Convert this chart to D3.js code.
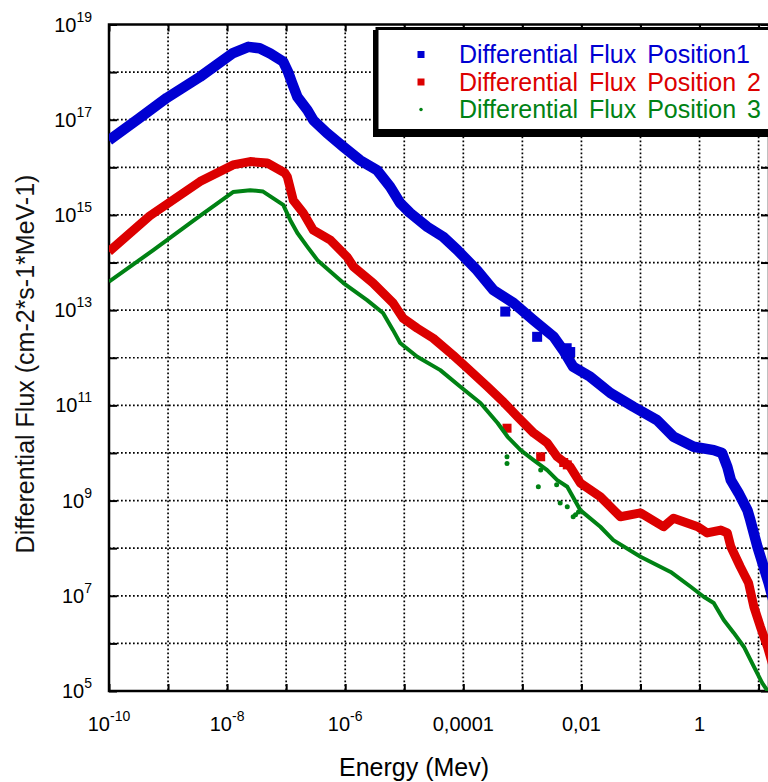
<!DOCTYPE html>
<html>
<head>
  <meta charset="utf-8">
  <style>
    body { margin: 0; background: #fff; }
    text { font-family: "Liberation Sans", Arial, sans-serif; }
  </style>
</head>
<body>
<div id="chart"></div>
<script src="https://d3js.org/d3.v7.min.js"></script>
<script>

  // values, as [log10 energy (MeV), log10 flux]
  const position1 = [[-10.00,16.57],[-9.50,17.02],[-9.02,17.46],[-8.46,17.90],[-7.90,18.40],[-7.64,18.53],
    [-7.45,18.50],[-7.27,18.39],[-7.05,18.22],[-6.97,18.01],[-6.90,17.77],[-6.81,17.48],[-6.64,17.20],
    [-6.54,16.99],[-6.31,16.72],[-6.03,16.43],[-5.75,16.15],[-5.46,15.94],[-5.24,15.59],[-5.07,15.25],
    [-4.90,15.04],[-4.61,14.75],[-4.34,14.54],[-4.10,14.26],[-3.77,13.84],[-3.49,13.42],[-3.15,13.15],
    [-2.81,12.79],[-2.47,12.44],[-2.31,12.16],[-2.14,11.81],[-1.85,11.60],[-1.51,11.26],[-1.12,10.97],
    [-0.72,10.69],[-0.44,10.34],[-0.10,10.13],[0.24,10.06],[0.38,10.00],[0.47,9.71],[0.53,9.43],
    [0.66,9.16],[0.81,8.80],[0.86,8.59],[0.98,8.03],[1.17,7.27],[1.25,6.9]];
  const position1Stray = [[-3.29,12.97],[-2.75,12.44],[-2.25,12.20],[-2.19,12.12]];

  const position2 = [[-10.00,14.23],[-9.31,14.98],[-8.46,15.70],[-7.90,16.05],[-7.61,16.12],[-7.32,16.09],
    [-7.02,15.88],[-6.98,15.80],[-6.88,15.31],[-6.71,15.04],[-6.54,14.68],[-6.25,14.47],[-5.97,14.12],
    [-5.86,13.91],[-5.53,13.57],[-5.19,13.15],[-5.02,12.83],[-4.78,12.62],[-4.51,12.41],[-4.17,12.05],
    [-3.93,11.78],[-3.59,11.39],[-3.32,11.07],[-3.08,10.76],[-2.81,10.42],[-2.58,10.21],[-2.41,9.92],
    [-2.19,9.71],[-2.02,9.37],[-1.68,9.08],[-1.34,8.66],[-1.00,8.74],[-0.61,8.45],[-0.44,8.63],
    [-0.03,8.45],[0.13,8.32],[0.36,8.38],[0.47,8.32],[0.53,8.03],[0.69,7.61],[0.83,7.27],[0.92,6.77],
    [1.03,6.35],[1.15,5.93],[1.25,5.5]];
  const position2Stray = [[-3.26,10.52],[-2.69,9.92],[-2.30,9.80],[-2.24,9.75]];

  const position3 = [[-10.00,13.60],[-9.25,14.26],[-8.46,14.98],[-7.90,15.48],[-7.61,15.52],[-7.39,15.49],
    [-7.05,15.21],[-6.93,14.89],[-6.81,14.62],[-6.64,14.33],[-6.47,14.05],[-6.03,13.57],[-5.63,13.21],
    [-5.36,12.94],[-5.19,12.58],[-5.07,12.31],[-4.78,12.02],[-4.39,11.74],[-4.05,11.39],[-3.71,11.05],
    [-3.42,10.63],[-3.25,10.34],[-3.03,10.06],[-2.81,9.85],[-2.58,9.64],[-2.41,9.43],[-2.24,9.29],
    [-2.02,8.80],[-1.68,8.45],[-1.46,8.17],[-1.00,7.82],[-0.49,7.50],[-0.15,7.19],[0.07,6.98],
    [0.24,6.85],[0.41,6.49],[0.58,6.22],[0.75,5.93],[0.92,5.51],[1.06,5.17],[1.18,4.95]];
  const position3Stray = [[-3.26,9.92],[-3.26,9.78],[-2.73,9.29],[-2.69,9.64],[-2.42,9.33],[-2.36,8.95],
    [-2.24,8.87],[-2.14,8.66],[-2.10,8.70],[-2.05,8.76]];

  const xTickLabels = [[-10,"10","-10"],[-8,"10","-8"],[-6,"10","-6"],[-4,"0,0001",""],[-2,"0,01",""],[0,"1",""]];
  const yTickLabels = [19,17,15,13,11,9,7,5];
  const seriesNames = ["Differential Flux Position1","Differential Flux Position 2","Differential Flux Position 3"];
  const seriesColors = ["#0000d2","#dc0000","#008214"];

  const width = 768, height = 782;
  const plotLeft = 109, plotRight = 769, plotTop = 24.5, plotBottom = 691;

  const x = d3.scaleLog().domain([1e-10, 15]).range([plotLeft, plotRight]);
  const y = d3.scaleLog().domain([1e5, 1e19]).range([plotBottom, plotTop]);
  const px = d => x(Math.pow(10, d[0]));
  const py = d => y(Math.pow(10, d[1]));

  const svg = d3.select('#chart').append('svg')
    .attr('width', width).attr('height', height);
  svg.append('rect').attr('width', width).attr('height', height).attr('fill', '#fff');

  svg.append('clipPath').attr('id', 'plot')
    .append('rect').attr('x', plotLeft).attr('y', plotTop)
    .attr('width', plotRight - plotLeft).attr('height', plotBottom - plotTop);

  const xDecades = d3.range(-10, 2).map(e => Math.pow(10, e));
  const yDecades = d3.range(5, 20).map(e => Math.pow(10, e));

  // dotted grid
  const grid = svg.append('g').attr('stroke', '#000').attr('stroke-width', 1.7)
    .attr('stroke-dasharray', '1.7,2.3');
  grid.selectAll('.gx').data(xDecades.slice(1)).enter().append('line')
    .attr('x1', d => x(d)).attr('x2', d => x(d)).attr('y1', plotTop).attr('y2', plotBottom);
  grid.selectAll('.gy').data(yDecades.slice(1, -1)).enter().append('line')
    .attr('x1', plotLeft).attr('x2', plotRight).attr('y1', d => y(d)).attr('y2', d => y(d));

  // axes with inward ticks
  svg.append('g').attr('transform', `translate(0,${plotBottom})`)
    .call(d3.axisTop(x).tickValues(xDecades).tickSize(7).tickFormat(''));
  svg.append('g').attr('transform', `translate(0,${plotTop})`)
    .call(d3.axisBottom(x).tickValues(xDecades).tickSize(7).tickFormat(''));
  svg.append('g').attr('transform', `translate(${plotLeft},0)`)
    .call(d3.axisRight(y).tickValues(yDecades).tickSize(8).tickFormat(''));
  svg.append('g').attr('transform', `translate(${plotRight},0)`)
    .call(d3.axisLeft(y).tickValues(yDecades).tickSize(8).tickFormat(''));
  svg.selectAll('.domain').remove();
  svg.selectAll('.tick line').attr('stroke', '#000').attr('stroke-width', 2);

  svg.append('rect').attr('x', plotLeft).attr('y', plotTop)
    .attr('width', plotRight - plotLeft).attr('height', plotBottom - plotTop)
    .attr('fill', 'none').attr('stroke', '#000').attr('stroke-width', 2.5);

  // tick labels
  const yl = svg.append('g').selectAll('text').data(yTickLabels).enter().append('text')
    .attr('x', 92).attr('y', d => y(Math.pow(10, d)) + 7)
    .attr('text-anchor', 'end').attr('font-size', 20);
  yl.append('tspan').text('10');
  yl.append('tspan').attr('dy', -10).attr('font-size', 14).text(d => d);

  const xl = svg.append('g').selectAll('text').data(xTickLabels).enter().append('text')
    .attr('x', d => x(Math.pow(10, d[0]))).attr('y', 731)
    .attr('text-anchor', 'middle').attr('font-size', 20);
  xl.append('tspan').text(d => d[1]);
  xl.filter(d => d[2]).append('tspan').attr('dy', -10).attr('font-size', 14).text(d => d[2]);

  svg.append('text').attr('x', 414).attr('y', 776).attr('text-anchor', 'middle')
    .attr('font-size', 25).text('Energy (Mev)');
  svg.append('text').attr('transform', 'translate(34,364) rotate(-90)').attr('text-anchor', 'middle')
    .attr('font-size', 25).attr('fill', '#111').text('Differential Flux (cm-2*s-1*MeV-1)');

  // series
  const line = d3.line().x(px).y(py);
  const series = [
    { data: position1, stray: position1Stray, w: 10.5, m: 10 },
    { data: position2, stray: position2Stray, w: 9, m: 9 },
    { data: position3, stray: position3Stray, w: 4, m: 5 }
  ];
  const plot = svg.append('g').attr('clip-path', 'url(#plot)');
  series.forEach((s, i) => {
    const g = plot.append('g');
    g.append('path').attr('d', line(s.data)).attr('fill', 'none')
      .attr('stroke', seriesColors[i]).attr('stroke-width', s.w)
      .attr('stroke-linejoin', 'round');
    g.selectAll('rect').data(s.stray).enter().append('rect')
      .attr('x', d => px(d) - s.m / 2).attr('y', d => py(d) - s.m / 2)
      .attr('width', s.m).attr('height', s.m)
      .attr('rx', i === 2 ? 2.5 : 0)
      .attr('fill', seriesColors[i]);
  });

  // legend with drop shadow
  const legend = svg.append('g');
  legend.append('rect').attr('x', 373).attr('y', 30).attr('width', 420).attr('height', 107).attr('fill', '#000');
  legend.append('rect').attr('x', 377).attr('y', 28.5).attr('width', 420).attr('height', 102)
    .attr('fill', '#fff').attr('stroke', '#000').attr('stroke-width', 3);
  const markerSize = [7, 7, 3.5];
  seriesNames.forEach((name, i) => {
    const cy = 54.5 + i * 27.5;
    legend.append('rect').attr('x', 421 - markerSize[i] / 2).attr('y', cy - markerSize[i] / 2)
      .attr('width', markerSize[i]).attr('height', markerSize[i])
      .attr('rx', i === 2 ? 1.7 : 0).attr('fill', seriesColors[i]);
    legend.append('text').attr('x', 459).attr('y', cy + 8.5)
      .attr('font-size', 25).attr('word-spacing', 4)
      .attr('fill', seriesColors[i]).text(name);
  });
</script>
</body>
</html>
